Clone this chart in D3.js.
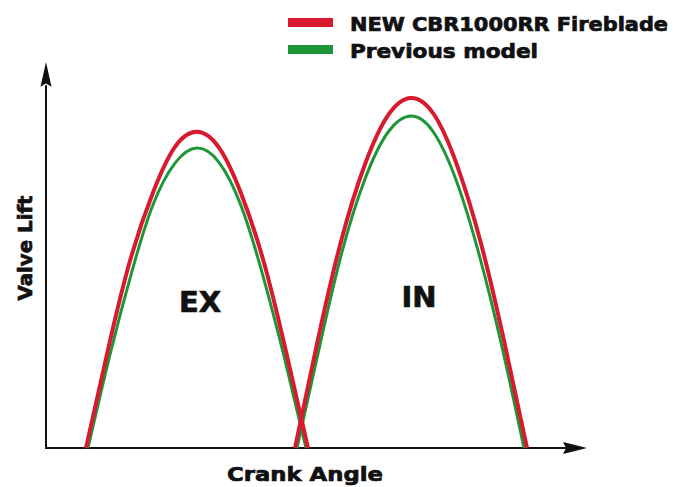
<!DOCTYPE html>
<html>
<head>
<meta charset="utf-8">
<script src="https://cdn.jsdelivr.net/npm/d3@7"></script>
<style>
  body { margin: 0; background: #fff; }
  text { font-family: "DejaVu Sans", sans-serif; font-weight: bold; fill: #111; stroke: #111; stroke-width: 0.7px; }
</style>
</head>
<body>
<div id="chart"></div>
<script>
// Sample data (crank angle in degrees, valve lift in arbitrary units)
const seriesNames = ['NEW CBR1000RR Fireblade', 'Previous model'];
const seriesColors = ['#d81a2e', '#1e9638'];

const newExAngle = [40, 62, 84, 107, 129, 151, 173, 195, 218, 240, 262];
const newExLift = [0, 2.55, 4.85, 6.62, 7.8, 8.19, 7.78, 6.6, 4.8, 2.5, 0];
const oldExAngle = [42, 64, 86, 107, 129, 151, 173, 195, 216, 238, 260];
const oldExLift = [0, 2.42, 4.58, 6.3, 7.38, 7.77, 7.4, 6.28, 4.55, 2.38, 0];

const newInAngle = [249, 272, 295, 319, 342, 365, 388, 411, 435, 458, 481];
const newInLift = [0, 2.82, 5.35, 7.35, 8.62, 9.07, 8.64, 7.33, 5.3, 2.78, 0];
const oldInAngle = [251, 274, 296, 319, 342, 365, 387, 410, 433, 456, 478];
const oldInLift = [0, 2.68, 5.08, 6.97, 8.18, 8.6, 8.2, 6.95, 5.02, 2.62, 0];

const regionLabels = [{ text: 'EX', angle: 154, lift: 3.53 }, { text: 'IN', angle: 373, lift: 3.66 }];

const width = 681, height = 487;

const svg = d3.select('#chart')
  .append('svg')
  .attr('width', width)
  .attr('height', height)
  .style('display', 'block');

// Scales
const xScale = d3.scaleLinear().domain([0, 540]).range([46, 586]);
const yScale = d3.scaleLinear().domain([0, 10]).range([448, 62]);

// Axes with arrow heads
const x0 = xScale(0), y0 = yScale(0);
svg.append('line')
  .attr('x1', x0).attr('y1', y0).attr('x2', xScale(520)).attr('y2', y0)
  .attr('stroke', '#111').attr('stroke-width', 2);
svg.append('line')
  .attr('x1', x0).attr('y1', y0 + 1).attr('x2', x0).attr('y2', yScale(9.4))
  .attr('stroke', '#111').attr('stroke-width', 2);
svg.append('path')
  .attr('d', `M${xScale(541)},${y0} L${xScale(517)},${y0 - 6} L${xScale(520)},${y0} L${xScale(517)},${y0 + 6} Z`)
  .attr('fill', '#111');
svg.append('path')
  .attr('d', `M${x0},${yScale(10)} L${x0 - 5.5},${yScale(9.36)} L${x0},${yScale(9.44)} L${x0 + 5.5},${yScale(9.36)} Z`)
  .attr('fill', '#111');

// Curves
const line = d3.line()
  .x(d => xScale(d[0]))
  .y(d => yScale(d[1]))
  .curve(d3.curveNatural);

const curves = [
  { angle: oldExAngle, lift: oldExLift, color: seriesColors[1], w: 3 },
  { angle: oldInAngle, lift: oldInLift, color: seriesColors[1], w: 3 },
  { angle: newExAngle, lift: newExLift, color: seriesColors[0], w: 4 },
  { angle: newInAngle, lift: newInLift, color: seriesColors[0], w: 4 }
];

svg.selectAll('path.curve')
  .data(curves)
  .enter()
  .append('path')
  .attr('class', 'curve')
  .attr('d', c => line(c.angle.map((a, i) => [a, c.lift[i]])))
  .attr('fill', 'none')
  .attr('stroke', c => c.color)
  .attr('stroke-width', c => c.w)
  .attr('stroke-linejoin', 'round');

// Region labels
svg.selectAll('text.region')
  .data(regionLabels)
  .enter()
  .append('text')
  .attr('class', 'region')
  .attr('x', d => xScale(d.angle))
  .attr('y', d => yScale(d.lift))
  .attr('text-anchor', 'middle')
  .style('font-size', '29px')
  .text(d => d.text);

// Axis titles
svg.append('text')
  .attr('x', 305).attr('y', 481)
  .attr('text-anchor', 'middle')
  .attr('textLength', 156)
  .attr('lengthAdjust', 'spacingAndGlyphs')
  .style('font-size', '20px')
  .text('Crank Angle');
svg.append('text')
  .attr('transform', 'translate(32,248) rotate(-90)')
  .attr('text-anchor', 'middle')
  .attr('textLength', 105)
  .attr('lengthAdjust', 'spacingAndGlyphs')
  .style('font-size', '20px')
  .text('Valve Lift');

// Legend
const legend = svg.selectAll('g.legend')
  .data(seriesNames)
  .enter()
  .append('g')
  .attr('class', 'legend')
  .attr('transform', (d, i) => `translate(288,${18 + i * 27})`);
legend.append('rect')
  .attr('width', 45).attr('height', 9)
  .attr('fill', (d, i) => seriesColors[i]);
legend.append('text')
  .attr('x', 62).attr('y', 13)
  .attr('textLength', (d, i) => i === 0 ? 318 : 188)
  .attr('lengthAdjust', 'spacingAndGlyphs')
  .style('font-size', '19px')
  .text(d => d);
</script>
</body>
</html>
